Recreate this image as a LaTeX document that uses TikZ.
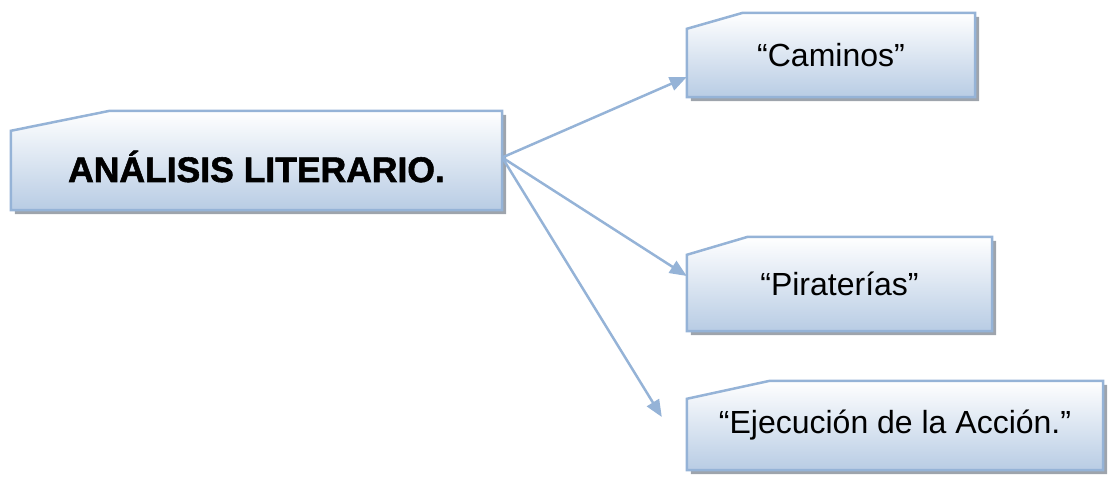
\documentclass[tikz,border=0pt]{standalone}
\usepackage{fontspec}
\setmainfont{Liberation Sans}
\newfontfamily\heavyfont[FakeBold=1.6]{Liberation Sans Bold}
\usepackage{tikz}
\usetikzlibrary{calc}
\usetikzlibrary{arrows.meta, positioning, backgrounds}

\definecolor{boxline}{HTML}{95B3D7}
\definecolor{boxlow}{HTML}{B8CCE4}
\definecolor{boxshadow}{HTML}{9EA4AC}

% snipped box behind a node: name, cut width, cut height
\newcommand{\snipbox}[3]{%
  \begin{pgfonlayer}{background}
    \fill[boxshadow] ($(#1.south west)+(4,-4)$) -- ($(#1.north west)+(4,-#3-4)$) -- ($(#1.north west)+(#2+4,-4)$)
      -- ($(#1.north east)+(4,-4)$) -- ($(#1.south east)+(4,-4)$) -- cycle;
    \shade[top color=white, bottom color=boxlow, draw=boxline, line width=2.5pt]
      (#1.south west) -- ($(#1.north west)+(0,-#3)$) -- ($(#1.north west)+(#2,0)$)
      -- (#1.north east) -- (#1.south east) -- cycle;
  \end{pgfonlayer}}

\begin{document}
\begin{tikzpicture}[x=1pt, y=1pt, >={Triangle[length=17pt, width=14pt]}, box/.style={rectangle, inner sep=0pt, align=center, font=\fontsize{32}{38}\selectfont}, title/.style={box, font=\fontsize{35.5}{42}\heavyfont, text height=43pt, text depth=0pt}, link/.style={->, color=boxline, line width=2.5pt}]
  \useasboundingbox (0,0) rectangle (1109,-478);

  \node[title, minimum width=491pt, minimum height=99pt] (analisis)   at (256.5,-160.5) {ANÁLISIS LITERARIO.};
  \node[box,   minimum width=288pt, minimum height=84pt] (caminos)    at (831,-55)      {“Caminos”};
  \node[box,   minimum width=305pt, minimum height=94pt] (piraterias) at (839.5,-284)   {“Piraterías”};
  \node[box,   minimum width=416pt, minimum height=89pt] (ejecucion)  at (895,-425.5)   {“Ejecución de la Acción.”};

  \snipbox{analisis}{99}{20}
  \snipbox{caminos}{56}{16}
  \snipbox{piraterias}{61}{18}
  \snipbox{ejecucion}{83}{18}

  \path[link]
        ([yshift=3pt]analisis.east) edge ([yshift=-22pt]caminos.west)
                                    edge ([yshift=8pt]piraterias.west)
                                    edge ([xshift=-25pt, yshift=8.5pt]ejecucion.west)
        ;
\end{tikzpicture}
\end{document}
